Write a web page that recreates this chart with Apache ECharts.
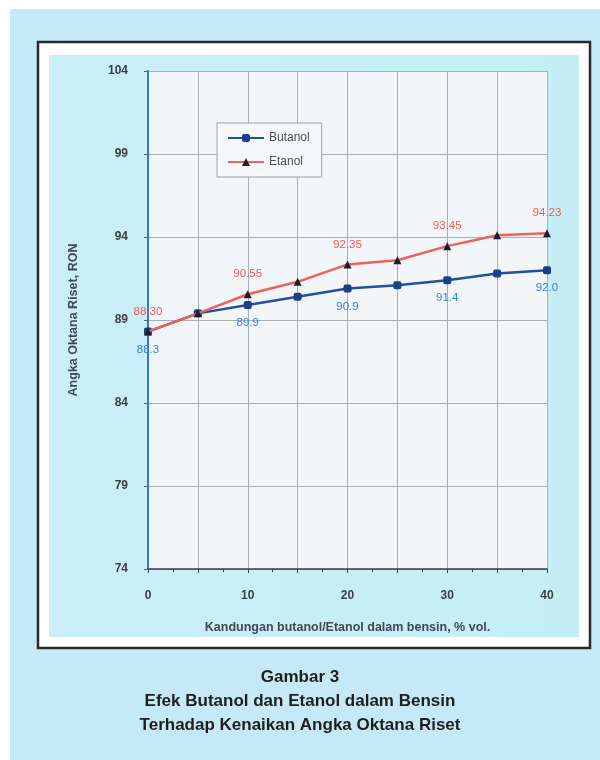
<!DOCTYPE html>
<html>
<head>
<meta charset="utf-8">
<script src="https://cdn.jsdelivr.net/npm/echarts@6/dist/echarts.min.js"></script>
<style>
  html, body { margin: 0; padding: 0; background: #ffffff; }
  #chart { width: 600px; height: 760px; }
</style>
</head>
<body>
<div id="chart"></div>
<script>
// Octane number (RON) of gasoline blends versus alcohol content, % vol.
const kandungan = [0, 5, 10, 15, 20, 25, 30, 35, 40];
const butanol = [88.3, 89.4, 89.9, 90.4, 90.9, 91.1, 91.4, 91.8, 92.0];
const etanol = [88.30, 89.4, 90.55, 91.3, 92.35, 92.6, 93.45, 94.1, 94.23];
const yTicks = [74, 79, 84, 89, 94, 99, 104];
const xTicks = [0, 10, 20, 30, 40];
const judul = ['Gambar 3', 'Efek Butanol dan Etanol dalam Bensin', 'Terhadap Kenaikan Angka Oktana Riset'];

const FONT = '"Liberation Sans", Arial, sans-serif';

function points(values, digits) {
  return values.map((v, i) => ({
    value: [kandungan[i], v],
    label: { show: xTicks.indexOf(kandungan[i]) >= 0, formatter: () => v.toFixed(digits) }
  }));
}

const chart = echarts.init(document.getElementById('chart'), null, { renderer: 'canvas' });

chart.setOption({
  animation: false,
  backgroundColor: '#ffffff',
  graphic: [
    { type: 'rect', z: -10, shape: { x: 10, y: 9, width: 600, height: 760 }, style: { fill: '#c6e9f8' } },
    { type: 'rect', z: -9, shape: { x: 38, y: 42, width: 552, height: 606 }, style: { fill: '#ffffff', stroke: '#2a2a2a', lineWidth: 2.5 } },
    { type: 'rect', z: -8, shape: { x: 49, y: 55, width: 530, height: 582 },
      style: { fill: new echarts.graphic.LinearGradient(0, 0, 1, 0, [
        { offset: 0, color: '#cbeef9' }, { offset: 1, color: '#c4eef4' }
      ]) } },
    { type: 'text', left: 'center', top: 665, style: {
        text: judul.join('\n'), font: 'bold 17px ' + FONT, fill: '#1e1e1e',
        textAlign: 'center', lineHeight: 24 } }
  ],
  grid: { left: 148, top: 71, right: 53, bottom: 191, show: true, backgroundColor: '#f3f6f9', borderWidth: 0 },
  legend: {
    left: 217, top: 123, orient: 'vertical', itemGap: 12, itemWidth: 36, itemHeight: 10,
    padding: [9, 12, 9, 10], backgroundColor: '#f5f7f9', borderColor: '#9aa3aa', borderWidth: 1,
    textStyle: { fontFamily: FONT, fontSize: 12, color: '#4a4f55' },
    data: ['Butanol', 'Etanol']
  },
  xAxis: {
    type: 'value', min: 0, max: 40, interval: 5,
    name: 'Kandungan butanol/Etanol dalam bensin, % vol.', nameLocation: 'middle', nameGap: 52,
    nameTextStyle: { fontFamily: FONT, fontSize: 12.5, fontWeight: 'bold', color: '#3f4a52' },
    axisLine: { show: true, lineStyle: { color: '#3a3f45', width: 1.5 } },
    axisTick: { show: true, length: 4, lineStyle: { color: '#3a3f45' } },
    minorTick: { show: true, splitNumber: 2, length: 3, lineStyle: { color: '#3a3f45' } },
    axisLabel: { customValues: xTicks, margin: 21, fontFamily: FONT, fontSize: 12, fontWeight: 'bold', color: '#3a3f45' },
    splitLine: { show: true, lineStyle: { color: '#a9afb5', width: 1 } }
  },
  yAxis: {
    type: 'value', min: 74, max: 104,
    name: 'Angka Oktana Riset, RON', nameLocation: 'middle', nameGap: 68, nameRotate: 90,
    nameTextStyle: { fontFamily: FONT, fontSize: 12.5, fontWeight: 'bold', color: '#3f4a52' },
    axisLine: { show: true, lineStyle: { color: '#2f7bd6', width: 2 } },
    axisTick: { show: true, customValues: yTicks, length: 4, lineStyle: { color: '#5a6068' } },
    axisLabel: { customValues: yTicks, margin: 20, fontFamily: FONT, fontSize: 12, fontWeight: 'bold', color: '#3a3f45' },
    splitLine: { show: true, lineStyle: { color: '#a9afb5', width: 1 } }
  },
  series: [
    {
      name: 'Butanol', type: 'line', data: points(butanol, 1),
      symbol: 'roundRect', symbolSize: 8,
      lineStyle: { color: '#22509e', width: 2.5 },
      itemStyle: { color: '#1d3f86' },
      label: { position: 'bottom', distance: 8, fontFamily: FONT, fontSize: 11.5, color: '#3b7fd6' },
      z: 3
    },
    {
      name: 'Etanol', type: 'line', data: points(etanol, 2),
      symbol: 'triangle', symbolSize: 8,
      lineStyle: { color: '#f0605c', width: 2.5 },
      itemStyle: { color: '#1c1f2e' },
      label: { position: 'top', distance: 10, fontFamily: FONT, fontSize: 11.5, color: '#ef5a55' },
      z: 4
    }
  ]
});
</script>
</body>
</html>
